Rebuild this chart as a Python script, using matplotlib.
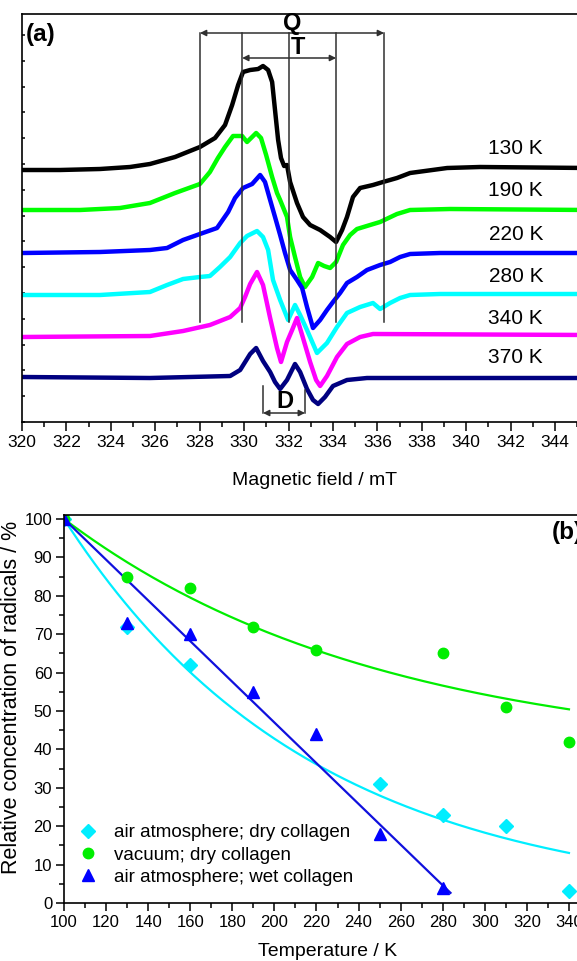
import numpy as np
import matplotlib
matplotlib.use('Agg')
import matplotlib.pyplot as plt
from matplotlib.ticker import MultipleLocator, FixedLocator

plt.rcParams['font.family'] = ['Liberation Sans', 'DejaVu Sans']

# ---------------- panel (a): EPR spectra (arbitrary intensity units) ----------------
field_130K = [320.00, 321.71, 323.51, 324.86, 325.76, 326.89, 328.01, 328.69, 329.14, 329.46,
              329.73, 329.95, 330.27, 330.63, 330.85, 331.08, 331.26, 331.39, 331.53, 331.66,
              331.80, 331.93, 332.07, 332.38, 332.65, 332.97, 333.42, 333.87, 334.14, 334.41,
              334.63, 334.90, 335.22, 335.80, 336.25, 336.88, 337.47, 339.14, 340.62, 345.5]
sig_130K = [252, 252, 253, 255, 258, 265, 275, 284, 297, 317,
            337, 350, 352, 353, 356, 352, 340, 312, 282, 264,
            256, 257, 240, 219, 205, 197, 192, 185, 180, 192,
            205, 225, 234, 237, 240, 244, 249, 254, 255, 254]

field_190K = [320.00, 322.61, 324.41, 325.76, 326.89, 328.01, 328.46, 328.82, 329.14, 329.50,
              329.91, 330.13, 330.54, 330.76, 330.99, 331.26, 331.48, 331.62, 331.93, 332.07,
              332.29, 332.52, 332.74, 333.06, 333.33, 333.60, 333.87, 334.14, 334.45, 334.77,
              335.08, 335.67, 336.12, 336.88, 337.47, 339.27, 345.5]
sig_190K = [212, 212, 214, 219, 229, 238, 250, 264, 275, 286,
            286, 280, 289, 284, 267, 245, 229, 222, 205, 185,
            165, 145, 135, 145, 159, 156, 154, 160, 177, 187,
            193, 197, 200, 208, 212, 213, 212]

field_220K = [320.00, 323.51, 325.76, 326.53, 327.25, 328.01, 328.78, 329.28, 329.59, 329.95,
              330.36, 330.72, 330.94, 331.17, 331.39, 331.62, 331.84, 332.07, 332.38, 332.61,
              332.83, 333.10, 333.42, 333.73, 334.00, 334.32, 334.63, 335.08, 335.53, 336.12,
              336.57, 337.02, 337.47, 338.82, 345.5]
sig_220K = [169, 170, 172, 174, 182, 188, 194, 210, 224, 234,
            238, 247, 240, 222, 205, 187, 169, 152, 142, 134,
            115, 94, 102, 112, 120, 129, 139, 145, 152, 157,
            160, 165, 168, 169, 169]

field_280K = [320.00, 323.51, 325.76, 326.53, 327.25, 328.01, 328.46, 328.91, 329.37, 329.82,
              330.13, 330.58, 330.85, 331.08, 331.30, 331.62, 331.98, 332.29, 332.52, 332.83,
              333.28, 333.73, 334.18, 334.63, 335.22, 335.80, 336.12, 336.57, 337.02, 337.47,
              338.82, 345.5]
sig_280K = [127, 127, 130, 137, 143, 145, 146, 155, 165, 179,
            186, 191, 185, 172, 142, 122, 102, 117, 107, 92,
            69, 79, 95, 109, 115, 119, 113, 119, 124, 127,
            128, 128]

field_340K = [320.00, 325.76, 327.25, 328.46, 329.37, 329.82, 330.04, 330.27, 330.58, 330.85,
              331.17, 331.48, 331.66, 331.93, 332.16, 332.38, 332.65, 332.97, 333.24, 333.42,
              333.73, 334.18, 334.63, 335.22, 335.80, 345.5]
sig_340K = [85, 86, 91, 97, 105, 114, 125, 138, 150, 137,
            104, 74, 60, 80, 92, 104, 84, 60, 42, 36,
            46, 65, 78, 85, 88, 87]

field_370K = [320.00, 325.76, 329.37, 329.82, 330.27, 330.54, 330.85, 331.17, 331.39, 331.62,
              331.93, 332.29, 332.52, 332.83, 333.10, 333.33, 333.64, 334.00, 334.63, 335.53, 345.5]
sig_370K = [45, 44, 46, 52, 68, 74, 61, 50, 40, 33,
            42, 58, 50, 33, 22, 18, 25, 36, 42, 44, 44]

spec_fields = [field_130K, field_190K, field_220K, field_280K, field_340K, field_370K]
spec_signals = [sig_130K, sig_190K, sig_220K, sig_280K, sig_340K, sig_370K]
spec_labels = ['130 K', '190 K', '220 K', '280 K', '340 K', '370 K']
spec_label_y = [274, 231, 188, 146, 103, 64]
spec_colors = ['#000000', '#00ff00', '#0000ff', '#00ffff', '#ff00ff', '#000080']
field_ticks = [320, 322, 324, 326, 328, 330, 332, 334, 336, 338, 340, 342, 344]

q_fields = [328.01, 336.30]
t_fields = [329.91, 334.14]
mid_field = 332.0
d_fields = [330.85, 332.74]

# ---------------- panel (b): relative radical concentration ----------------
temp_air_dry = [100, 130, 160, 250, 280, 310, 340]
rad_air_dry = [100, 72, 62, 31, 23, 20, 3]
temp_vac_dry = [100, 130, 160, 190, 220, 280, 310, 340]
rad_vac_dry = [100, 85, 82, 72, 66, 65, 51, 42]
temp_air_wet = [100, 130, 160, 190, 220, 250, 280]
rad_air_wet = [100, 73, 70, 55, 44, 18, 4]
legend_labels = ['air atmosphere; dry collagen', 'vacuum; dry collagen',
                 'air atmosphere; wet collagen']

# fit parameters (exponential decays and a straight line)
fit_vac = (37.9, 62.1, 150.0)      # y0, A, t
fit_air_dry = (0.0, 100.0, 117.8)  # y0, A, t
fit_wet = (100.0, -0.53, 283.7)    # y(100), slope, end temperature

W, H = 577, 961
fig = plt.figure(figsize=(W / 100, H / 100), dpi=100)

def px_rect(l, t, r, b):
    return [l / W, 1 - b / H, (r - l) / W, (b - t) / H]

# ---------- (a) ----------
axa = fig.add_axes(px_rect(22, 14, 600, 422))
for f, s, c in zip(spec_fields, spec_signals, spec_colors):
    axa.plot(f, s, color=c, lw=3.2, solid_joinstyle='round')
axa.set_xlim(320, 346.02)
axa.set_ylim(0, 408)
axa.xaxis.set_major_locator(FixedLocator(field_ticks))
axa.xaxis.set_minor_locator(MultipleLocator(1))
axa.yaxis.set_major_locator(MultipleLocator(25.8))
axa.tick_params(axis='x', which='major', direction='out', length=6.5, width=1.1,
                labelsize=12.5, pad=3)
axa.tick_params(axis='x', which='minor', direction='out', length=3.6, width=1.1)
axa.tick_params(axis='y', which='major', direction='in', length=2.5, width=1.1, left=True,
                labelleft=False)
for sp in axa.spines.values():
    sp.set_linewidth(1.2)

line_col = '#303030'
for xv in q_fields + t_fields + [mid_field]:
    axa.plot([xv, xv], [389, 100], color=line_col, lw=1.1)
for xv, yb in zip(d_fields, [36, 32]):
    axa.plot([xv, xv], [yb, 9], color=line_col, lw=1.1)

arrow_kw = dict(arrowstyle='<|-|>', color=line_col, lw=1.1, mutation_scale=9,
                shrinkA=0, shrinkB=0)
axa.annotate('', xy=(q_fields[1], 389), xytext=(q_fields[0], 389), arrowprops=arrow_kw)
axa.annotate('', xy=(t_fields[1], 364), xytext=(t_fields[0], 364), arrowprops=arrow_kw)
axa.annotate('', xy=(d_fields[1], 9), xytext=(d_fields[0], 9), arrowprops=arrow_kw)

axa.text(332.16, 398.5, 'Q', fontsize=17, fontweight='bold', ha='center', va='center')
axa.text(332.43, 374, 'T', fontsize=17, fontweight='bold', ha='center', va='center')
axa.text(331.84, 20, 'D', fontsize=17, fontweight='bold', ha='center', va='center')
axa.text(320.15, 387, '(a)', fontsize=17.5, fontweight='bold', ha='left', va='center')

for lab, yv in zip(spec_labels, spec_label_y):
    axa.text(343.46, yv, lab, fontsize=15, ha='right', va='center')

fig.text(315 / W, 1 - 481 / H, 'Magnetic field / mT', fontsize=14, ha='center', va='center')

# ---------- (b) ----------
axb = fig.add_axes(px_rect(64, 515, 590, 903))
T_vac = np.linspace(100, 340, 200)
T_air = np.linspace(100, 340, 200)
T_wet = np.linspace(100, fit_wet[2], 50)
axb.plot(T_vac, fit_vac[0] + fit_vac[1] * np.exp(-(T_vac - 100) / fit_vac[2]),
         color='#00ee00', lw=1.6)
axb.plot(T_air, fit_air_dry[0] + fit_air_dry[1] * np.exp(-(T_air - 100) / fit_air_dry[2]),
         color='#00eeff', lw=1.6)
axb.plot(T_wet, fit_wet[0] + fit_wet[1] * (T_wet - 100), color='#1010dd', lw=1.6)

h1, = axb.plot(temp_air_dry, rad_air_dry, 'D', color='#00eeff', ms=7, ls='none',
               label=legend_labels[0])
h2, = axb.plot(temp_vac_dry, rad_vac_dry, 'o', color='#00ee00', ms=7.5, ls='none',
               label=legend_labels[1])
h3, = axb.plot(temp_air_wet, rad_air_wet, '^', color='#0000ff', ms=8.5, ls='none',
               label=legend_labels[2])

axb.set_xlim(100, 350)
axb.set_ylim(0, 101.04)
axb.xaxis.set_major_locator(MultipleLocator(20))
axb.xaxis.set_minor_locator(MultipleLocator(10))
axb.yaxis.set_major_locator(MultipleLocator(10))
axb.yaxis.set_minor_locator(MultipleLocator(5))
axb.tick_params(which='major', direction='out', length=6, width=1.1, labelsize=12, pad=2.5)
axb.tick_params(which='minor', direction='out', length=3.8, width=1.1)
for sp in axb.spines.values():
    sp.set_linewidth(1.2)

axb.text(331.9, 96.4, '(b)', fontsize=17.5, fontweight='bold', ha='left', va='center')

fig.legend(handles=[h1, h2, h3], loc='upper left',
           bbox_to_anchor=(78.6 / W, 1 - 824 / H), bbox_transform=fig.transFigure,
           frameon=False, fontsize=13.5, handlelength=1.0, handletextpad=0.9,
           borderpad=0, borderaxespad=0, labelspacing=0.28, numpoints=1)

fig.text(328 / W, 1 - 952 / H, 'Temperature / K', fontsize=14, ha='center', va='center')
fig.text(12 / W, 1 - 697 / H, 'Relative concentration of radicals / %', fontsize=15.5,
         ha='center', va='center', rotation=90)

fig.savefig('out.png', dpi=100)
